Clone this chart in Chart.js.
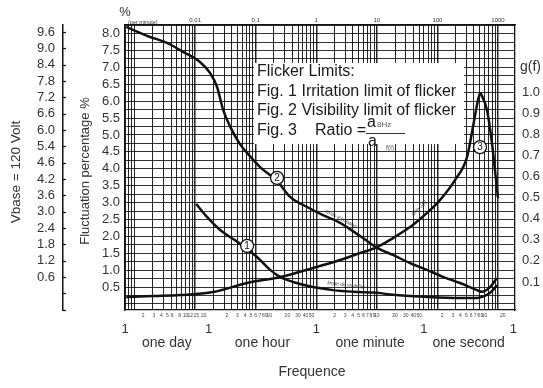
<!DOCTYPE html>
<html>
<head>
<meta charset="utf-8">
<script src="https://cdn.jsdelivr.net/npm/chart.js@4"></script>
<style>
html,body{margin:0;padding:0;background:#fff;}
canvas{display:block;}
</style>
</head>
<body>
<canvas id="c" width="543" height="388"></canvas>
<script>
// ---------- DATA (frequencies in events per minute) ----------
const curve2Freq = [0.00073, 0.0018, 0.0035, 0.0063, 0.012, 0.0177, 0.023, 0.029, 0.038, 0.055, 0.072, 0.118, 0.225, 0.37, 0.705, 1.29, 2.47, 5.28, 10.1, 18.5, 35.3, 67, 124, 236, 450, 545, 738, 962];
const curve2Pct  = [8.20, 7.90, 7.72, 7.46, 7.16, 6.83, 6.42, 5.74, 5.24, 4.73, 4.47, 4.05, 3.64, 3.17, 2.87, 2.63, 2.40, 2.01, 1.66, 1.45, 1.21, 1.01, 0.80, 0.62, 0.41, 0.36, 0.50, 0.77];

const curve1Freq = [0.0104, 0.0158, 0.0259, 0.0424, 0.0721, 0.105, 0.173, 0.253, 0.414, 0.885, 1.89, 4.05, 10.1, 18.5, 67, 236, 450, 658, 826, 962];
const curve1Pct  = [2.96, 2.57, 2.19, 1.92, 1.63, 1.39, 1.01, 0.80, 0.65, 0.50, 0.41, 0.36, 0.33, 0.27, 0.21, 0.18, 0.18, 0.27, 0.41, 0.56];

const curve3Freq  = [0.00073, 0.00203, 0.00566, 0.0198, 0.0721, 0.253, 0.885, 2.47, 5.28, 10.1, 18.5, 35.3, 51.6, 67.3, 110, 195, 308, 386, 468, 510, 658, 796, 891, 1000];
const curve3Ratio = [0.028, 0.033, 0.038, 0.052, 0.095, 0.123, 0.166, 0.204, 0.237, 0.265, 0.308, 0.360, 0.398, 0.427, 0.488, 0.583, 0.692, 0.834, 0.962, 1.0, 0.915, 0.758, 0.630, 0.498];

const fluctTickValues = [0.5,1.0,1.5,2.0,2.5,3.0,3.5,4.0,4.5,5.0,5.5,6.0,6.5,7.0,7.5,8.0];
const vbaseTickValues = [0.6,1.2,1.8,2.4,3.0,3.6,4.2,4.8,5.4,6.0,6.6,7.2,7.8,8.4,9.0,9.6];
const vbaseTickLabels = ['0.6','1.2','1.8','2.4','3.0','3.6','4.2','4.6','5.4','6.0','6.6','7.2','7.8','8.4','9.0','9.6'];
const ratioTickValues = [0.1,0.2,0.3,0.4,0.5,0.6,0.7,0.8,0.9,1.0];
const topDecades      = [0.01, 0.1, 1, 10, 100, 1000];
const topDecadeLabels = ['0,01', '0,1', '1', '10', '100', '1000'];
const bottomTickValues = [1/1440, 1/60, 1, 60, 1800];
const periodNames = ['one day', 'one hour', 'one minute', 'one second'];
const unitPerMinute = [1/1440, 1/60, 1, 60];
const minorDay    = [2,3,4,5,6,8,10,12,15,20];
const minorHour   = [2,3,4,5,6,7,8,9,10,20,30,40,50];
const minorMinute = [2,3,4,5,6,7,8,9,10,20,30,40,50];
const minorSecond = [2,3,4,5,6,7,8,9,10,20];
const circleMarks = [
  {text:'1', f:0.0721, v:1.72, axis:'y'},
  {text:'2', f:0.225,  v:3.73, axis:'y'},
  {text:'3', f:505,    v:0.739, axis:'g'}
];
const legendLines = ['Flicker Limits:', 'Fig. 1 Irritation limit of flicker', 'Fig. 2 Visibility limit of flicker'];

// ---------- CONFIG ----------
const X_MIN = 1/1440, X_MAX = 1910;
const INK = '#111';
const FAM = "'Liberation Sans', Arial, Helvetica, sans-serif";
Chart.defaults.font.family = FAM;
Chart.defaults.color = '#333';
const fnt = (s, st) => (st ? st + ' ' : '') + s + 'px ' + FAM;
const near = (a, b) => Math.abs(Math.log10(a) - Math.log10(b)) < 1e-6;

const gridVals = [];
for (let e = -4; e <= 3; e++) for (let m = 1; m <= 9; m++) {
  const v = +(m * Math.pow(10, e)).toPrecision(6);
  if (v >= X_MIN && v <= X_MAX) gridVals.push(v);
}

const pts = (fx, fy) => fx.map((f, i) => ({x: f, y: fy[i]}));
const peakIdx = curve3Ratio.indexOf(Math.max(...curve3Ratio));
const lineStyle = {borderColor: INK, borderWidth: 2.5, pointRadius: 0, fill: false, cubicInterpolationMode: 'monotone'};

function rotText(c, t, x, y, ang, f) {
  c.save(); c.translate(x, y); c.rotate(ang); c.font = f; c.fillText(t, 0, 0); c.restore();
}

const overlay = {
  id: 'overlay',
  beforeDatasetsDraw(chart) {
    const c = chart.ctx;
    c.save();
    c.fillStyle = '#fff';
    c.fillRect(254, 63, 210, 81);
    c.restore();
  },
  afterDraw(chart) {
    const c = chart.ctx, xs = chart.scales.x, vb = chart.scales.vb;
    c.save();
    // Vbase tick marks
    c.strokeStyle = INK; c.lineWidth = 1.2;
    [-0.6, 0].concat(vbaseTickValues).forEach(v => {
      const py = Math.round(vb.getPixelForValue(v)) + 0.5;
      c.beginPath(); c.moveTo(vb.right, py); c.lineTo(vb.right + 3, py); c.stroke();
    });
    // axis titles
    c.fillStyle = '#333'; c.textAlign = 'center'; c.textBaseline = 'middle';
    rotText(c, 'Vbase = 120 Volt', 16, 172, -Math.PI / 2, fnt(13.5));
    rotText(c, 'Fluctuation percentage %', 85, 171, -Math.PI / 2, fnt(13));
    c.font = fnt(13); c.fillText('%', 125, 12);
    c.textAlign = 'left'; c.font = fnt(14); c.fillText('g(f)', 520, 67);
    c.font = fnt(5.5); c.fillText('(per minute)', 128, 22);
    // bottom period labels
    c.textAlign = 'center'; c.font = fnt(14);
    for (let i = 0; i < periodNames.length; i++) {
      const a = xs.getPixelForValue(bottomTickValues[i]), b = xs.getPixelForValue(bottomTickValues[i + 1]);
      c.fillText(periodNames[i], (a + b) / 2, 343);
    }
    c.fillText('Frequence', 312, 372);
    // minor bottom labels
    c.font = fnt(5); c.fillStyle = '#444';
    [minorDay, minorHour, minorMinute, minorSecond].forEach((arr, k) => {
      arr.forEach(n => {
        const px = xs.getPixelForValue(n * unitPerMinute[k]);
        if (px > xs.left + 2 && px < xs.right - 2) c.fillText(String(n), px, 316);
      });
    });
    // legend text
    c.fillStyle = '#1a1a1a'; c.textAlign = 'left'; c.font = fnt(16);
    legendLines.forEach((t, i) => c.fillText(t, 257, 72 + i * 19.5));
    c.fillText('Fig. 3', 257, 131);
    c.fillText('Ratio =', 315, 131);
    c.fillText('a', 367, 123);
    c.fillText('a', 368, 142);
    c.fillStyle = '#555';
    c.font = fnt(8); c.fillText('8Hz', 377, 125);
    c.font = fnt(7); c.fillText('f(i)', 386, 148);
    c.strokeStyle = '#333'; c.lineWidth = 1;
    c.beginPath(); c.moveTo(366, 133.5); c.lineTo(405, 133.5); c.stroke();
    // curve captions
    c.fillStyle = '#333'; c.textAlign = 'center';
    rotText(c, "limite d'irritation", 341, 219, 0.47, fnt(5, 'italic'));
    rotText(c, 'limite de visibilité', 346, 285, 0.12, fnt(5, 'italic'));
    rotText(c, 'gain G(f)', 419, 208, -0.78, fnt(5, 'italic'));
    // circle labels
    circleMarks.forEach(m => {
      const sc = chart.scales[m.axis];
      const px = xs.getPixelForValue(m.f), py = sc.getPixelForValue(m.v);
      c.beginPath(); c.arc(px, py, 6.5, 0, Math.PI * 2);
      c.fillStyle = '#fff'; c.fill();
      c.strokeStyle = INK; c.lineWidth = 1.3; c.stroke();
      c.fillStyle = '#111'; c.font = fnt(10); c.textAlign = 'center'; c.textBaseline = 'middle';
      c.fillText(m.text, px, py + 0.5);
    });
    c.restore();
  }
};

new Chart(document.getElementById('c'), {
  type: 'line',
  data: {
    datasets: [
      Object.assign({label: 'Fig. 2', data: pts(curve2Freq, curve2Pct), xAxisID: 'x', yAxisID: 'y'}, lineStyle),
      Object.assign({label: 'Fig. 1', data: pts(curve1Freq, curve1Pct), xAxisID: 'x', yAxisID: 'y'}, lineStyle),
      Object.assign({label: 'Fig. 3', data: pts(curve3Freq.slice(0, peakIdx + 1), curve3Ratio.slice(0, peakIdx + 1)), xAxisID: 'x', yAxisID: 'g'}, lineStyle),
      Object.assign({label: 'Fig. 3b', data: pts(curve3Freq.slice(peakIdx), curve3Ratio.slice(peakIdx)), xAxisID: 'x', yAxisID: 'g'}, lineStyle)
    ]
  },
  options: {
    responsive: false,
    animation: false,
    devicePixelRatio: 1,
    layout: {padding: 0},
    plugins: {legend: {display: false}, tooltip: {enabled: false}},
    scales: {
      x: {
        type: 'logarithmic', position: 'bottom', min: X_MIN, max: X_MAX,
        afterBuildTicks: s => { s.ticks = bottomTickValues.map(v => ({value: v})); },
        ticks: {callback: () => '1', padding: 12, font: {size: 13}, color: '#333', autoSkip: false, maxRotation: 0, minRotation: 0},
        grid: {display: false, drawTicks: false},
        border: {color: INK, width: 1.3},
        afterFit: s => { s.height = 78; }
      },
      x2: {
        type: 'logarithmic', position: 'top', min: X_MIN, max: X_MAX,
        afterBuildTicks: s => { s.ticks = gridVals.map(v => ({value: v})); },
        ticks: {
          callback: v => { const k = topDecades.findIndex(d => near(d, v)); return k >= 0 ? topDecadeLabels[k] : ''; },
          padding: 1, font: {size: 6}, color: '#333', autoSkip: false, maxRotation: 0, minRotation: 0
        },
        grid: {color: 'rgba(0,0,0,0.85)', lineWidth: c => (c.tick && topDecades.some(d => near(d, c.tick.value))) ? 1.5 : 1, drawTicks: false},
        border: {color: INK, width: 1.3},
        afterFit: s => { s.height = 25; }
      },
      vb: {
        type: 'linear', position: 'left', min: -0.61, max: 9.86, weight: 10,
        afterBuildTicks: s => { s.ticks = [-0.6, 0].concat(vbaseTickValues).map(v => ({value: v})); },
        ticks: {
          callback: v => { const k = vbaseTickValues.findIndex(t => Math.abs(t - v) < 1e-6); return k >= 0 ? vbaseTickLabels[k] : ''; },
          padding: 8, font: {size: 13}, color: '#333', autoSkip: false
        },
        grid: {display: false, drawTicks: false},
        border: {color: INK, width: 1.5},
        afterFit: s => { s.width = 63; }
      },
      y: {
        type: 'linear', position: 'left', min: -0.178, max: 8.254, weight: 0,
        afterBuildTicks: s => { const t = []; for (let i = 0; i <= 33; i++) t.push({value: i * 0.25}); s.ticks = t; },
        ticks: {
          callback: v => fluctTickValues.some(t => Math.abs(t - v) < 1e-6) ? v.toFixed(1) : '',
          padding: 5, font: {size: 13}, color: '#333', autoSkip: false
        },
        grid: {color: 'rgba(0,0,0,0.8)', lineWidth: 1, drawTicks: false},
        border: {color: INK, width: 1.3},
        afterFit: s => { s.width = 62; }
      },
      g: {
        type: 'linear', position: 'right', min: -0.033, max: 1.318,
        afterBuildTicks: s => { s.ticks = ratioTickValues.map(v => ({value: v})); },
        ticks: {callback: v => v.toFixed(1), padding: 7, font: {size: 13}, color: '#333', autoSkip: false},
        grid: {display: false, drawTicks: false},
        border: {color: INK, width: 1.3},
        afterFit: s => { s.width = 28; }
      }
    }
  },
  plugins: [overlay]
});
</script>
</body>
</html>
